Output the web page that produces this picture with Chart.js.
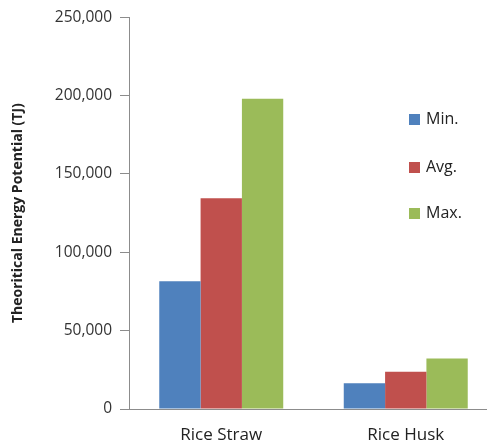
<!DOCTYPE html>
<html>
<head>
<meta charset="utf-8">
<script src="https://cdn.jsdelivr.net/npm/chart.js@4"></script>
<style>
  html, body { margin: 0; padding: 0; background: #fff; overflow: hidden; }
  #wrap { width: 500px; height: 445px; position: relative; }
</style>
</head>
<body>
<div id="wrap"><canvas id="c"></canvas></div>
<script>
const categories = ['Rice Straw', 'Rice Husk'];
const seriesNames = ['Min.', 'Avg.', 'Max.'];
const minValues = [81500, 16400];
const avgValues = [134500, 23800];
const maxValues = [198000, 32300];
const yTicks = [0, 50000, 100000, 150000, 200000, 250000];
const colors = ['#4F81BD', '#C0504D', '#9BBB59'];

const FONT = '"Open Sans", "Noto Sans", sans-serif';

// Legend drawn as a vertical column inside the plot area
const sideLegend = {
  id: 'sideLegend',
  afterDraw(chart) {
    const ctx = chart.ctx;
    const rows = [119, 167, 213];
    ctx.save();
    ctx.font = '16px ' + FONT;
    ctx.textBaseline = 'middle';
    chart.data.datasets.forEach((ds, i) => {
      const y = rows[i];
      ctx.fillStyle = ds.backgroundColor;
      ctx.fillRect(409, y - 5, 11, 11);
      ctx.fillStyle = '#222';
      ctx.fillText(ds.label, 426, y);
    });
    ctx.restore();
  }
};

new Chart(document.getElementById('c'), {
  type: 'bar',
  data: {
    labels: categories,
    datasets: [
      { label: seriesNames[0], data: minValues, backgroundColor: colors[0] },
      { label: seriesNames[1], data: avgValues, backgroundColor: colors[1] },
      { label: seriesNames[2], data: maxValues, backgroundColor: colors[2] }
    ]
  },
  options: {
    responsive: true,
    maintainAspectRatio: false,
    animation: false,
    layout: { padding: { top: 16, right: 2, left: 0, bottom: 0 } },
    datasets: { bar: { barPercentage: 1, categoryPercentage: 0.672 } },
    plugins: {
      legend: { display: false },
      tooltip: { enabled: false }
    },
    scales: {
      x: {
        grid: { display: false },
        border: { display: true, color: '#8c8c8c', width: 1 },
        ticks: { color: '#222', font: { family: FONT, size: 17 }, padding: 8 },
        afterFit(scale) { scale.height = 36; }
      },
      y: {
        min: 0,
        max: 250000,
        afterBuildTicks(scale) { scale.ticks = yTicks.map(v => ({ value: v })); },
        grid: { drawOnChartArea: false, drawTicks: true, tickLength: 9, color: '#8c8c8c' },
        border: { display: true, color: '#8c8c8c', width: 1 },
        ticks: {
          color: '#333',
          font: { family: FONT, size: 15.5 },
          padding: 8,
          callback: v => v.toLocaleString('en-US')
        },
        title: {
          display: true,
          text: 'Theoritical Energy Potential (TJ)',
          color: '#222',
          font: { family: FONT, size: 14, weight: 'bold' },
          padding: { top: 10, bottom: 8 }
        },
        afterFit(scale) { scale.width = 129; }
      }
    }
  },
  plugins: [sideLegend]
});
</script>
</body>
</html>
